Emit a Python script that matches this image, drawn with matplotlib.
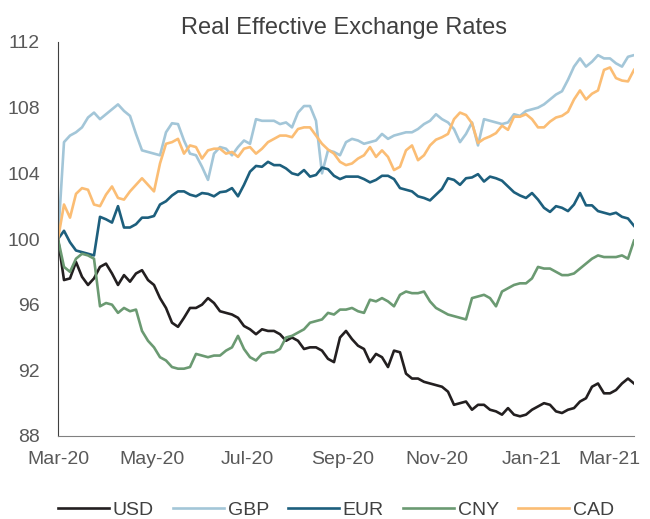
import matplotlib
matplotlib.use("Agg")
import matplotlib.pyplot as plt
import matplotlib.dates as mdates
import matplotlib.transforms as mtransforms
import pandas as pd

plt.rcParams['font.family'] = ['Liberation Sans', 'DejaVu Sans']

# index values, rebased to 100 at the start (Mar 2020 - Mar 2021)
start, end = '2020-03-01', '2021-03-08'

usd = [100.0, 97.5, 97.6, 98.6, 97.7, 97.2, 97.6, 98.3, 98.5, 97.9,
       97.2, 97.8, 97.4, 97.9, 98.1, 97.5, 97.2, 96.4, 95.8, 94.9,
       94.65, 95.2, 95.8, 95.8, 96.0, 96.4, 96.1, 95.6, 95.5, 95.4,
       95.2, 94.7, 94.5, 94.2, 94.5, 94.4, 94.4, 94.2, 93.8, 94.0,
       93.8, 93.3, 93.4, 93.4, 93.2, 92.7, 92.5, 94.0, 94.4, 93.9,
       93.5, 93.3, 92.5, 93.0, 92.8, 92.2, 93.2, 93.1, 91.8, 91.5,
       91.5, 91.3, 91.2, 91.1, 91.0, 90.7, 89.9, 90.0, 90.1, 89.6,
       89.9, 89.9, 89.6, 89.5, 89.3, 89.7, 89.3, 89.2, 89.3, 89.6,
       89.8, 90.0, 89.9, 89.5, 89.4, 89.6, 89.7, 90.1, 90.3, 91.0,
       91.2, 90.6, 90.6, 90.8, 91.2, 91.5, 91.2]

gbp = [100.0, 105.9, 106.3, 106.5, 106.8, 107.4, 107.7, 107.3, 107.6, 107.9,
       108.2, 107.8, 107.5, 106.4, 105.4, 105.3, 105.2, 105.1, 106.5, 107.05,
       107.0, 106.0, 105.2, 105.1, 104.4, 103.6, 105.2, 105.6, 105.5, 105.1,
       105.6, 106.0, 105.8, 107.3, 107.2, 107.2, 107.2, 107.0, 107.1, 106.8,
       107.7, 108.1, 108.1, 107.2, 104.0, 105.4, 105.3, 105.1, 105.9, 106.1,
       106.0, 105.8, 105.9, 106.0, 106.4, 106.1, 106.3, 106.4, 106.5, 106.5,
       106.7, 107.0, 107.2, 107.6, 107.3, 107.1, 106.7, 105.9, 106.4, 107.1,
       105.7, 107.3, 107.2, 107.1, 107.0, 107.1, 107.6, 107.5, 107.8, 107.9,
       108.0, 108.2, 108.5, 108.8, 109.0, 109.7, 110.5, 111.0, 110.5, 110.8,
       111.2, 111.0, 111.0, 110.7, 110.5, 111.1, 111.2]

eur = [100.0, 100.5, 99.8, 99.3, 99.2, 99.1, 99.0, 101.35, 101.2, 101.0,
       102.0, 100.7, 100.7, 100.9, 101.3, 101.3, 101.4, 102.1, 102.3, 102.65,
       102.9, 102.9, 102.7, 102.6, 102.8, 102.75, 102.6, 102.85, 102.9, 103.1,
       102.6, 103.3, 104.1, 104.45, 104.4, 104.7, 104.5, 104.5, 104.3, 104.0,
       103.9, 104.2, 103.8, 103.9, 104.35, 104.25, 103.85, 103.65, 103.8, 103.8,
       103.8, 103.65, 103.45, 103.6, 103.85, 103.85, 103.65, 103.1, 103.0, 102.9,
       102.6, 102.5, 102.35, 102.7, 103.05, 103.7, 103.6, 103.3, 103.7, 103.75,
       103.95, 103.5, 103.8, 103.7, 103.55, 103.2, 102.85, 102.65, 102.5, 102.8,
       102.4, 101.9, 101.65, 102.0, 101.9, 101.7, 102.1, 102.8, 102.05, 102.05,
       101.7, 101.6, 101.5, 101.6, 101.35, 101.25, 100.8]

cny = [100.0, 98.3, 98.0, 98.8, 99.1, 99.0, 98.8, 95.9, 96.1, 96.0,
       95.5, 95.8, 95.6, 95.7, 94.4, 93.8, 93.4, 92.8, 92.6, 92.2,
       92.1, 92.1, 92.2, 93.0, 92.9, 92.8, 92.9, 92.9, 93.2, 93.4,
       94.1, 93.3, 92.8, 92.6, 93.0, 93.1, 93.1, 93.3, 94.0, 94.1,
       94.3, 94.5, 94.9, 95.0, 95.1, 95.5, 95.4, 95.7, 95.7, 95.8,
       95.6, 95.5, 96.3, 96.2, 96.4, 96.2, 95.9, 96.6, 96.8, 96.7,
       96.7, 96.8, 96.2, 95.8, 95.6, 95.4, 95.3, 95.2, 95.1, 96.4,
       96.5, 96.6, 96.4, 95.9, 96.8, 97.0, 97.2, 97.3, 97.3, 97.6,
       98.3, 98.2, 98.2, 98.0, 97.8, 97.8, 97.9, 98.2, 98.5, 98.8,
       99.0, 98.9, 98.9, 98.9, 99.0, 98.8, 99.9]

cad = [100.0, 102.1, 101.3, 102.75, 103.1, 103.0, 102.1, 102.0, 102.7, 103.2,
       102.5, 102.4, 102.9, 103.3, 103.7, 103.3, 102.9, 104.6, 105.8, 105.9,
       106.1, 105.2, 105.7, 105.6, 104.9, 105.4, 105.5, 105.5, 105.2, 105.3,
       105.0, 105.5, 105.6, 105.2, 105.5, 105.9, 106.1, 106.3, 106.3, 106.2,
       106.7, 106.8, 106.8, 106.3, 105.8, 105.45, 105.2, 104.7, 104.5, 104.6,
       104.9, 105.1, 105.6, 105.0, 105.4, 105.0, 104.2, 104.4, 105.4, 105.7,
       104.8, 105.1, 105.7, 106.05, 106.2, 106.4, 107.3, 107.7, 107.55, 107.05,
       105.85, 106.1, 106.25, 106.45, 106.9, 106.65, 107.45, 107.45, 107.6, 107.3,
       106.8, 106.8, 107.15, 107.4, 107.5, 107.75, 108.5, 109.05, 108.5, 108.85,
       109.05, 110.3, 110.45, 109.8, 109.65, 109.6, 110.3]

dates = pd.date_range(start, end, periods=len(usd))

series = [
    ('USD', usd, '#231f20'),
    ('GBP', gbp, '#a3c6d8'),
    ('EUR', eur, '#1d5f7d'),
    ('CNY', cny, '#6b9a72'),
    ('CAD', cad, '#fbbd74'),
]

fig = plt.figure(figsize=(6.5, 5.19), dpi=100)
ax = fig.add_axes([58 / 650, 1 - 436 / 519, (634 - 58) / 650, (436 - 42) / 519])

for name, vals, color in series:
    ax.plot(dates, vals, color=color, lw=1.9, label=name)

ax.set_ylim(88, 112)
ax.set_yticks(range(88, 113, 4))
ax.set_xlim(dates[0], dates[-1])
ax.xaxis.set_major_locator(mdates.MonthLocator(bymonth=[1, 3, 5, 7, 9, 11]))
ax.xaxis.set_major_formatter(mdates.DateFormatter('%b-%y'))

ax.tick_params(length=0, labelsize=14, colors='#595959')
ax.tick_params(axis='y', pad=13)
ax.tick_params(axis='x', pad=11)

for s in ['top', 'right']:
    ax.spines[s].set_visible(False)
ax.spines['left'].set_color('#404040')
ax.spines['bottom'].set_color('#808080')

fig.text(344 / 650, 1 - 28 / 519, 'Real Effective Exchange Rates',
         ha='center', va='center', fontsize=17, color='#404040')

fig.legend(loc='center', bbox_to_anchor=(336 / 650, 1 - 510 / 519), ncol=5,
           frameon=False, fontsize=14, handlelength=2.6, handletextpad=0.2,
           columnspacing=1.0, labelcolor='#404040')

# keep the last month label inside the figure
fig.canvas.draw()
last = ax.xaxis.get_major_ticks()[-1].label1
last.set_transform(last.get_transform() +
                   mtransforms.ScaledTranslation(-10 / 72, 0, fig.dpi_scale_trans))

fig.savefig('out.png', dpi=100)
